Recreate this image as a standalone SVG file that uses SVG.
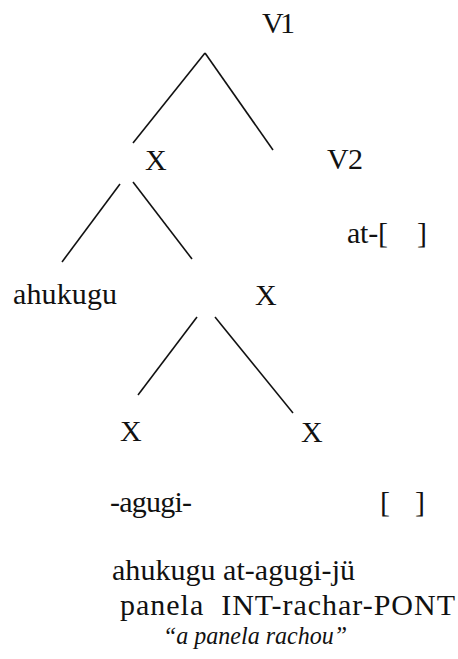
<svg xmlns="http://www.w3.org/2000/svg" width="458" height="659" viewBox="0 0 458 659" font-family="Liberation Serif, DejaVu Serif, serif">
<style>
text{font-size:30px;fill:#111}
.it{font-style:italic;font-size:26px}
.edge{stroke:#111;stroke-width:1.6;fill:none;stroke-linecap:butt}
</style>
<rect width="458" height="659" fill="#fff"/>
<g id="connectors">
<line class="edge" x1="205" y1="53" x2="133" y2="143"/>
<line class="edge" x1="205" y1="53" x2="273" y2="150"/>
<line class="edge" x1="120" y1="184" x2="62" y2="262"/>
<line class="edge" x1="133" y1="182" x2="192" y2="259"/>
<line class="edge" x1="197" y1="317" x2="138" y2="395"/>
<line class="edge" x1="215" y1="317" x2="293" y2="413"/>
</g>
<g id="V1"><text x="262" y="33" textLength="33">V1</text></g>
<g id="X1"><text x="145" y="170">X</text></g>
<g id="V2"><text x="327" y="169" textLength="36">V2</text></g>
<g id="V2-form"><text x="347" y="243" textLength="80" xml:space="preserve">at-[    ]</text></g>
<g id="ahukugu"><text x="13" y="304" textLength="104">ahukugu</text></g>
<g id="X2"><text x="255" y="305">X</text></g>
<g id="X3"><text x="120" y="441">X</text></g>
<g id="X4"><text x="301" y="442">X</text></g>
<g id="agugi"><text x="110" y="512" textLength="82">-agugi-</text></g>
<g id="empty"><text x="380" y="512" textLength="45" xml:space="preserve">[   ]</text></g>
<g id="gloss">
<text x="112" y="580" textLength="243">ahukugu at-agugi-jü</text>
<text x="120" y="615" textLength="335" xml:space="preserve">panela  INT-rachar-PONT</text>
<text class="it" x="163" y="644" textLength="184" lengthAdjust="spacingAndGlyphs">“a panela rachou”</text>
</g>
</svg>
